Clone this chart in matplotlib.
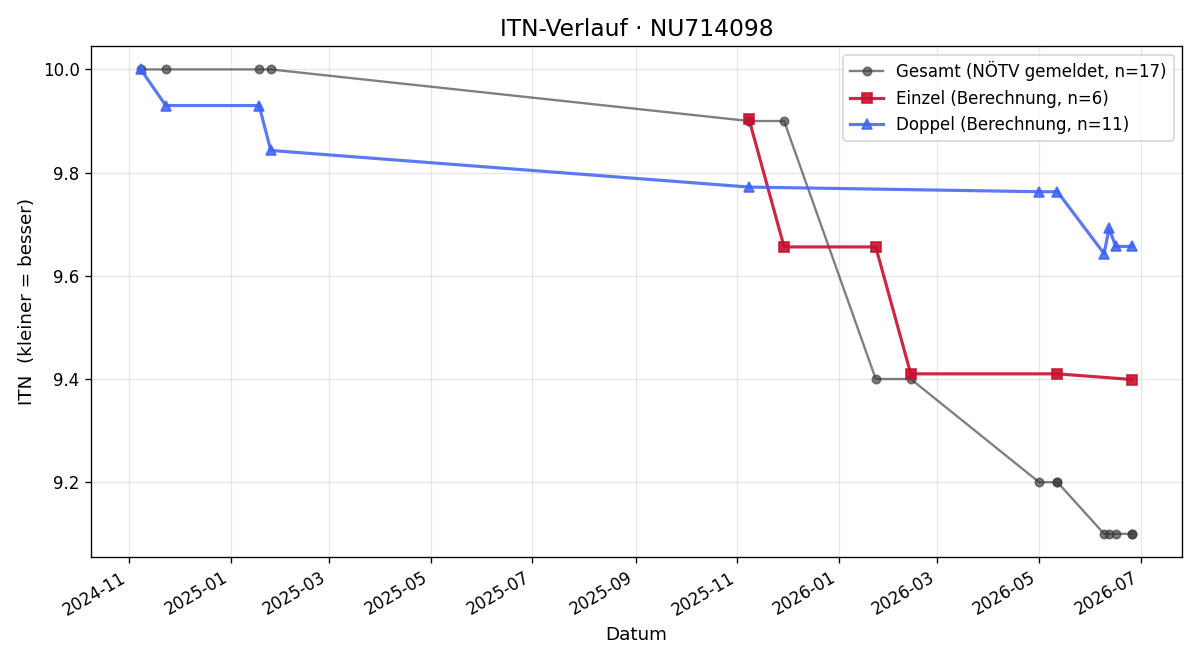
import pandas as pd
import matplotlib
matplotlib.use('Agg')
import matplotlib.pyplot as plt
import matplotlib.dates as mdates

# Gesamt (NÖTV gemeldet)
gesamt_dates = ['2024-11-08', '2024-11-23', '2025-01-18', '2025-01-25', '2025-11-08', '2025-11-08',
                '2025-11-29', '2026-01-23', '2026-02-13', '2026-05-01', '2026-05-12', '2026-05-12',
                '2026-06-09', '2026-06-12', '2026-06-16', '2026-06-26', '2026-06-26']
gesamt_itn = [10.0, 10.0, 10.0, 10.0, 9.9, 9.9, 9.9, 9.4, 9.4, 9.2, 9.2, 9.2,
              9.1, 9.1, 9.1, 9.1, 9.1]

# Einzel (Berechnung)
einzel_dates = ['2025-11-08', '2025-11-29', '2026-01-23', '2026-02-13', '2026-05-12', '2026-06-26']
einzel_itn = [9.903, 9.656, 9.656, 9.410, 9.410, 9.399]

# Doppel (Berechnung)
doppel_dates = ['2024-11-08', '2024-11-23', '2025-01-18', '2025-01-25', '2025-11-08', '2026-05-01',
                '2026-05-12', '2026-06-09', '2026-06-12', '2026-06-16', '2026-06-26']
doppel_itn = [10.0, 9.930, 9.930, 9.843, 9.772, 9.763, 9.763, 9.643, 9.692, 9.657, 9.657]

fig, ax = plt.subplots(figsize=(10, 5.5), dpi=120)

ax.plot(pd.to_datetime(gesamt_dates), gesamt_itn, color='#3a3a3a', alpha=0.65, marker='o',
        markersize=5, linewidth=1.4, label='Gesamt (NÖTV gemeldet, n=%d)' % len(gesamt_itn))
ax.plot(pd.to_datetime(einzel_dates), einzel_itn, color='#c8102e', alpha=0.9, marker='s',
        markersize=6, linewidth=1.9, label='Einzel (Berechnung, n=%d)' % len(einzel_itn))
ax.plot(pd.to_datetime(doppel_dates), doppel_itn, color='#3d63f2', alpha=0.85, marker='^',
        markersize=6, linewidth=1.9, label='Doppel (Berechnung, n=%d)' % len(doppel_itn))

ax.set_title('ITN-Verlauf · NU714098', fontsize=14)
ax.set_xlabel('Datum', fontsize=11)
ax.set_ylabel('ITN  (kleiner = besser)', fontsize=11)
ax.grid(True, alpha=0.3)
ax.xaxis.set_major_locator(mdates.MonthLocator(bymonth=[1, 3, 5, 7, 9, 11]))
ax.xaxis.set_major_formatter(mdates.DateFormatter('%Y-%m'))
ax.legend(loc='upper right', fontsize=10)
fig.autofmt_xdate()

fig.subplots_adjust(left=0.076, right=0.985, top=0.930, bottom=0.156)
plt.savefig('out.png')
